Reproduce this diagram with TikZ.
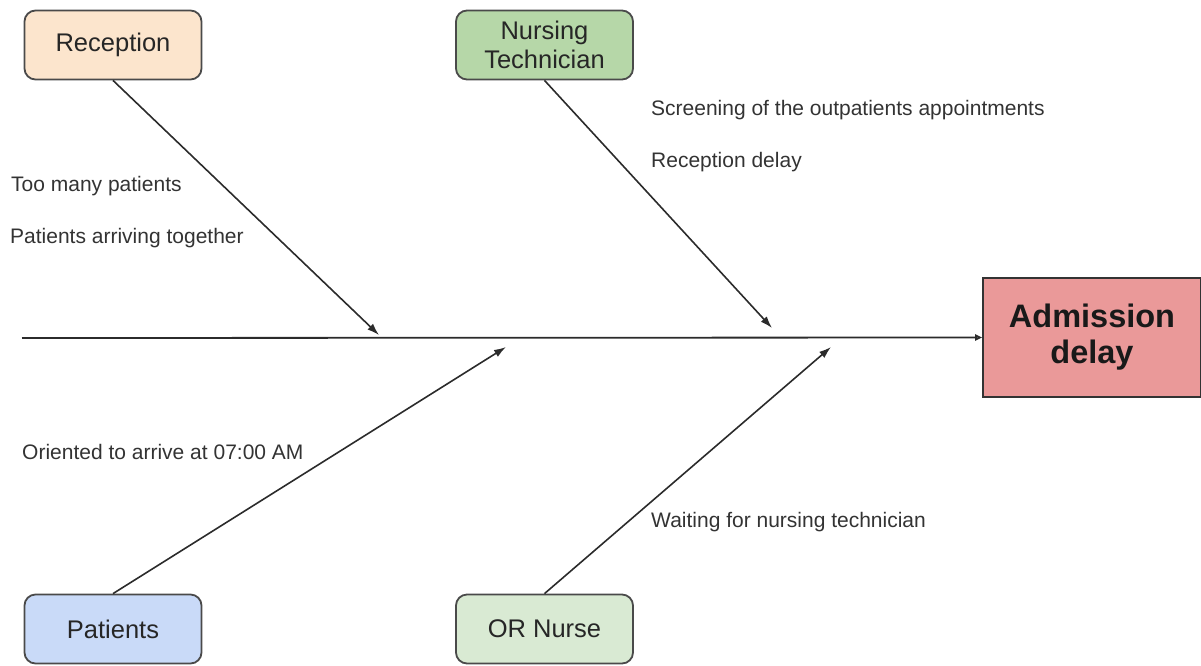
\documentclass[tikz,border=0pt]{standalone}
\usepackage{fontspec}
\setmainfont{Liberation Sans}
\usepackage{xcolor}
\usetikzlibrary{arrows.meta, positioning}
\definecolor{recpeach}{HTML}{FCE5CD}
\definecolor{techgreen}{HTML}{B6D7A8}
\definecolor{patblue}{HTML}{C9DAF8}
\definecolor{orgreen}{HTML}{D9EAD3}
\definecolor{effred}{HTML}{EA9999}
\definecolor{linegray}{HTML}{2B2B2B}
\definecolor{boxedge}{HTML}{4A4A4A}
\begin{document}
\begin{tikzpicture}[x=1pt, y=-1pt,
  causebox/.style={draw=boxedge, line width=1.8pt, rounded corners=11pt,
    minimum width=177pt, minimum height=69pt, align=center, text=black!85,
    font=\fontsize{25.5}{29}\selectfont},
  effectbox/.style={draw=black!80, line width=1.6pt, fill=effred,
    minimum width=218pt, minimum height=119pt, align=center, text=black!90,
    font=\fontsize{32.5}{36}\selectfont\bfseries},
  bone/.style={draw=linegray, line width=1.6pt, -{Latex[length=12pt, width=8pt]}},
  note/.style={anchor=west, inner sep=0pt, text=black!80,
    font=\fontsize{21}{24}\selectfont}]
\useasboundingbox (0,0) rectangle (1201,665);
% Effect and spine
\node[effectbox] (effect) at (1092,337.5) {Admission\\delay};
\coordinate (tail) at (22,338);
\draw[linegray, line width=1.8pt, -{Triangle[open, length=7pt, width=6pt]}] (tail) -- (effect.west);
% Causes
\node[causebox, fill=recpeach] (rec) at (113,45) {Reception};
\node[causebox, fill=techgreen] (tech) at (544.5,45) {Nursing\\Technician};
\node[causebox, fill=patblue] (pat) at (113,629) {Patients};
\node[causebox, fill=orgreen] (ornurse) at (544.5,629) {OR Nurse};
% Points on the spine
\coordinate (recend) at (379,335);
\coordinate (techend) at (772,328);
\coordinate (patend) at (506,347);
\coordinate (orend) at (831,347);
\draw[bone] (rec.south) -- (recend);
\draw[bone] (tech.south) -- (techend);
\draw[bone] (pat.north) -- (patend);
\draw[bone] (ornurse.north) -- (orend);
% Sub-causes
\node[note] (n1) at (11,186) {Too many patients};
\node[note] (n2) at (10,238) {Patients arriving together};
\node[note] (n3) at (651,110) {Screening of the outpatients appointments};
\node[note] (n4) at (651,162) {Reception delay};
\node[note] (n5) at (22,452) {Oriented to arrive at 07:00 AM};
\node[note] (n6) at (651,522) {Waiting for nursing technician};
\end{tikzpicture}
\end{document}
